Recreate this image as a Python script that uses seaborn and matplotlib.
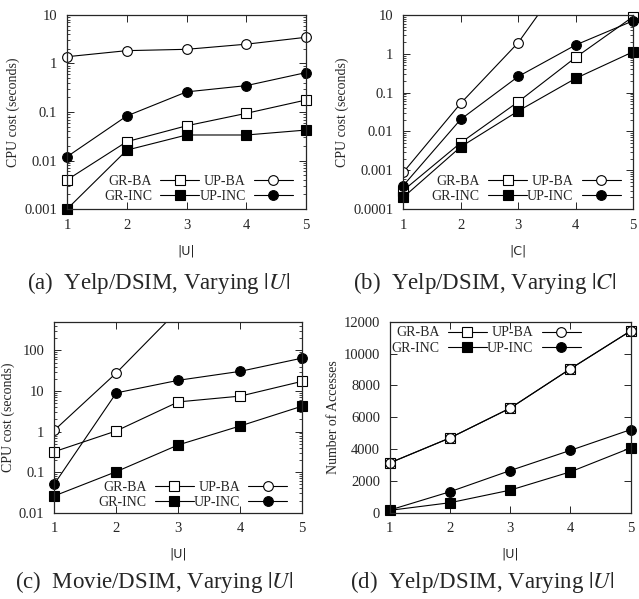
import numpy as np
import pandas as pd
import matplotlib
matplotlib.use("Agg")
import matplotlib.pyplot as plt
from matplotlib.ticker import LogLocator, NullFormatter, FixedLocator
import seaborn as sns

# =============================================================================
# DATOS
# =============================================================================
x_vals = [1, 2, 3, 4, 5]
series = ["GR-BA", "GR-INC", "UP-BA", "UP-INC"]

# (a) Yelp/DSIM, varying |U|
a_gr_ba = [0.004, 0.0245, 0.052, 0.094, 0.177]
a_gr_inc = [0.001, 0.0164, 0.0336, 0.0336, 0.0425]
a_up_ba = [1.38, 1.84, 1.96, 2.5, 3.47]
a_up_inc = [0.012, 0.083, 0.26, 0.35, 0.65]

# (b) Yelp/DSIM, varying |C|
b_gr_ba = [0.0003, 0.0051, 0.058, 0.81, 9.1]
b_gr_inc = [0.0002, 0.004, 0.0336, 0.233, 1.13]
b_up_ba = [0.00088, 0.053, 1.94, 230, 20000]
b_up_inc = [0.0004, 0.0205, 0.26, 1.69, 7.1]

# (c) Movie/DSIM, varying |U|
c_gr_ba = [0.32, 1.04, 5.4, 7.5, 17.4]
c_gr_inc = [0.026, 0.103, 0.47, 1.38, 4.25]
c_up_ba = [1.08, 27.9, 1000, 10000, 100000]
c_up_inc = [0.051, 9.0, 18.4, 30.6, 64.9]

# (d) Yelp/DSIM, number of accesses
d_gr_ba = [3130, 4700, 6570, 9040, 11420]
d_gr_inc = [150, 630, 1420, 2570, 4070]
d_up_ba = [3130, 4700, 6570, 9040, 11420]
d_up_inc = [170, 1320, 2650, 3920, 5220]

captions = ["(a)  Yelp/DSIM, Varying $|U|$", "(b)  Yelp/DSIM, Varying $|C|$",
            "(c)  Movie/DSIM, Varying $|U|$", "(d)  Yelp/DSIM, Varying $|U|$"]

sns.set_style("ticks")
plt.rcParams["font.family"] = ["Liberation Serif", "DejaVu Serif"]
plt.rcParams["mathtext.fontset"] = "stix"

estilos = {
    "GR-BA": dict(marker="s", markerfacecolor="white"),
    "GR-INC": dict(marker="s", markerfacecolor="black"),
    "UP-BA": dict(marker="o", markerfacecolor="white"),
    "UP-INC": dict(marker="o", markerfacecolor="black"),
}


def dibujar_panel(ax, datos, xlabel, ylabel, log, ylim, yticks, ytlabels, loc, bbox, sin_clip):
    for nombre, valores in zip(series, datos):
        df = pd.DataFrame({"x": x_vals, "y": valores})
        sns.lineplot(data=df, x="x", y="y", ax=ax, color="black", lw=0.8,
                     markersize=7, markeredgecolor="black", markeredgewidth=0.8,
                     label=nombre, clip_on=(nombre not in sin_clip), **estilos[nombre])
    if log:
        ax.set_yscale("log")
        ax.yaxis.set_minor_locator(LogLocator(base=10, subs=np.arange(2, 10)))
        ax.yaxis.set_minor_formatter(NullFormatter())
    ax.set_ylim(*ylim)
    ax.set_xlim(1, 5)
    ax.xaxis.set_major_locator(FixedLocator(x_vals))
    ax.set_yticks(yticks)
    ax.set_yticklabels(ytlabels)
    ax.tick_params(which="both", direction="in", top=True, right=True, labelsize=10.5, pad=7)
    ax.tick_params(which="major", length=5, width=0.7)
    ax.tick_params(which="minor", length=2.5, width=0.6)
    for s in ax.spines.values():
        s.set_linewidth(0.9)
        s.set_visible(True)
    ax.set_xlabel(xlabel, fontsize=9, family="DejaVu Sans", labelpad=9)
    ax.set_ylabel(ylabel, fontsize=10, labelpad=3)
    ax.legend(ncol=2, loc=loc, bbox_to_anchor=bbox, frameon=False, markerfirst=False,
              fontsize=10, handlelength=2.8, columnspacing=0.0, handletextpad=0.6,
              labelspacing=0.15, borderaxespad=0, borderpad=0)


fig = plt.figure(figsize=(6.39, 5.99), dpi=100)
ax_a = fig.add_axes([0.105, 0.651, 0.374, 0.324])
ax_b = fig.add_axes([0.631, 0.651, 0.360, 0.324])
ax_c = fig.add_axes([0.085, 0.144, 0.388, 0.319])
ax_d = fig.add_axes([0.610, 0.144, 0.377, 0.319])

dibujar_panel(ax_a, [a_gr_ba, a_gr_inc, a_up_ba, a_up_inc], "|U|", "CPU cost (seconds)", True,
              (0.001, 10), [0.001, 0.01, 0.1, 1, 10], ["0.001", "0.01", "0.1", "1", "10"],
              "lower right", (0.945, 0.03), series)
dibujar_panel(ax_b, [b_gr_ba, b_gr_inc, b_up_ba, b_up_inc], "|C|", "CPU cost (seconds)", True,
              (0.0001, 10), [0.0001, 0.001, 0.01, 0.1, 1, 10],
              ["0.0001", "0.001", "0.01", "0.1", "1", "10"],
              "lower right", (0.945, 0.03), ["GR-BA", "GR-INC", "UP-INC"])
dibujar_panel(ax_c, [c_gr_ba, c_gr_inc, c_up_ba, c_up_inc], "|U|", "CPU cost (seconds)", True,
              (0.01, 513), [0.01, 0.1, 1, 10, 100], ["0.01", "0.1", "1", "10", "100"],
              "lower right", (0.94, 0.02), ["GR-BA", "GR-INC", "UP-INC"])
dibujar_panel(ax_d, [d_gr_ba, d_gr_inc, d_up_ba, d_up_inc], "|U|", "Number of Accesses", False,
              (0, 12000), list(range(0, 12001, 2000)), [str(v) for v in range(0, 12001, 2000)],
              "upper left", (0.008, 0.975), series)

# subtítulos de cada panel
fig.text(0.248, 0.527, captions[0], ha="center", va="center", fontsize=16.5)
fig.text(0.759, 0.527, captions[1], ha="center", va="center", fontsize=16.5)
fig.text(0.241, 0.028, captions[2], ha="center", va="center", fontsize=16.5)
fig.text(0.755, 0.028, captions[3], ha="center", va="center", fontsize=16.5)

fig.savefig("out.png", dpi=100)
